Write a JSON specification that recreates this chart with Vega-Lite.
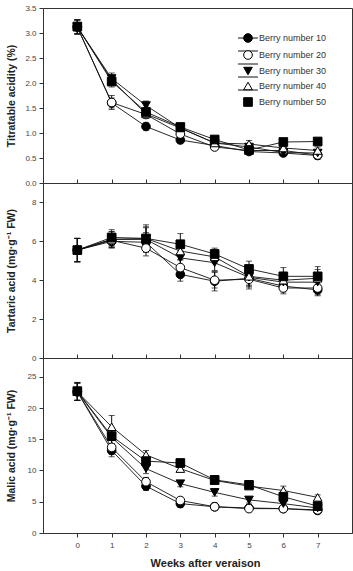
{
  "$schema": "https://vega.github.io/schema/vega-lite/v6.json",
  "padding": {"left": 5, "top": 3, "right": 2, "bottom": 2},
  "spacing": 0,
  "bounds": "flush",
  "datasets": {
    "acids": [
      {"week": 0, "series": "Berry number 10", "ta": 3.12, "ta_sd": 0.14, "tart": 5.55, "tart_sd": 0.6, "mal": 22.6, "mal_sd": 1.4},
      {"week": 1, "series": "Berry number 10", "ta": 1.60, "ta_sd": 0.10, "tart": 6.0, "tart_sd": 0.35, "mal": 13.2, "mal_sd": 1.0},
      {"week": 2, "series": "Berry number 10", "ta": 1.13, "ta_sd": 0.07, "tart": 5.95, "tart_sd": 0.5, "mal": 7.5, "mal_sd": 0.7},
      {"week": 3, "series": "Berry number 10", "ta": 0.86, "ta_sd": 0.07, "tart": 4.3, "tart_sd": 0.35, "mal": 4.7, "mal_sd": 0.6},
      {"week": 4, "series": "Berry number 10", "ta": 0.75, "ta_sd": 0.06, "tart": 3.95, "tart_sd": 0.5, "mal": 4.2, "mal_sd": 0.6},
      {"week": 5, "series": "Berry number 10", "ta": 0.63, "ta_sd": 0.06, "tart": 4.1, "tart_sd": 0.45, "mal": 4.0, "mal_sd": 0.5},
      {"week": 6, "series": "Berry number 10", "ta": 0.60, "ta_sd": 0.06, "tart": 3.7, "tart_sd": 0.3, "mal": 3.9, "mal_sd": 0.5},
      {"week": 7, "series": "Berry number 10", "ta": 0.55, "ta_sd": 0.07, "tart": 3.5, "tart_sd": 0.3, "mal": 3.6, "mal_sd": 0.4},

      {"week": 0, "series": "Berry number 20", "ta": 3.12, "ta_sd": 0.14, "tart": 5.55, "tart_sd": 0.6, "mal": 22.6, "mal_sd": 1.4},
      {"week": 1, "series": "Berry number 20", "ta": 1.61, "ta_sd": 0.14, "tart": 6.05, "tart_sd": 0.35, "mal": 13.7, "mal_sd": 1.1},
      {"week": 2, "series": "Berry number 20", "ta": 1.37, "ta_sd": 0.07, "tart": 5.65, "tart_sd": 0.4, "mal": 8.2, "mal_sd": 0.7},
      {"week": 3, "series": "Berry number 20", "ta": 0.98, "ta_sd": 0.07, "tart": 4.65, "tart_sd": 0.4, "mal": 5.2, "mal_sd": 0.5},
      {"week": 4, "series": "Berry number 20", "ta": 0.72, "ta_sd": 0.06, "tart": 4.0, "tart_sd": 0.4, "mal": 4.2, "mal_sd": 0.5},
      {"week": 5, "series": "Berry number 20", "ta": 0.65, "ta_sd": 0.06, "tart": 4.05, "tart_sd": 0.5, "mal": 3.9, "mal_sd": 0.5},
      {"week": 6, "series": "Berry number 20", "ta": 0.65, "ta_sd": 0.06, "tart": 3.6, "tart_sd": 0.3, "mal": 3.9, "mal_sd": 0.5},
      {"week": 7, "series": "Berry number 20", "ta": 0.56, "ta_sd": 0.08, "tart": 3.6, "tart_sd": 0.35, "mal": 3.7, "mal_sd": 0.4},

      {"week": 0, "series": "Berry number 30", "ta": 3.12, "ta_sd": 0.14, "tart": 5.55, "tart_sd": 0.6, "mal": 22.6, "mal_sd": 1.4},
      {"week": 1, "series": "Berry number 30", "ta": 2.09, "ta_sd": 0.11, "tart": 6.1, "tart_sd": 0.4, "mal": 15.3, "mal_sd": 1.0},
      {"week": 2, "series": "Berry number 30", "ta": 1.55, "ta_sd": 0.09, "tart": 6.1, "tart_sd": 0.6, "mal": 10.3, "mal_sd": 0.8},
      {"week": 3, "series": "Berry number 30", "ta": 1.10, "ta_sd": 0.07, "tart": 5.15, "tart_sd": 0.4, "mal": 7.9, "mal_sd": 0.5},
      {"week": 4, "series": "Berry number 30", "ta": 0.80, "ta_sd": 0.06, "tart": 4.9, "tart_sd": 0.4, "mal": 6.5, "mal_sd": 0.6},
      {"week": 5, "series": "Berry number 30", "ta": 0.72, "ta_sd": 0.06, "tart": 4.15, "tart_sd": 0.45, "mal": 5.3, "mal_sd": 0.5},
      {"week": 6, "series": "Berry number 30", "ta": 0.61, "ta_sd": 0.06, "tart": 3.9, "tart_sd": 0.4, "mal": 4.7, "mal_sd": 0.5},
      {"week": 7, "series": "Berry number 30", "ta": 0.60, "ta_sd": 0.07, "tart": 3.9, "tart_sd": 0.4, "mal": 4.0, "mal_sd": 0.4},

      {"week": 0, "series": "Berry number 40", "ta": 3.12, "ta_sd": 0.14, "tart": 5.55, "tart_sd": 0.6, "mal": 22.6, "mal_sd": 1.4},
      {"week": 1, "series": "Berry number 40", "ta": 2.06, "ta_sd": 0.10, "tart": 6.1, "tart_sd": 0.4, "mal": 17.0, "mal_sd": 1.8},
      {"week": 2, "series": "Berry number 40", "ta": 1.38, "ta_sd": 0.07, "tart": 6.15, "tart_sd": 0.7, "mal": 12.5, "mal_sd": 0.7},
      {"week": 3, "series": "Berry number 40", "ta": 1.10, "ta_sd": 0.07, "tart": 5.5, "tart_sd": 0.45, "mal": 10.3, "mal_sd": 0.5},
      {"week": 4, "series": "Berry number 40", "ta": 0.80, "ta_sd": 0.06, "tart": 5.2, "tart_sd": 0.35, "mal": 8.4, "mal_sd": 0.6},
      {"week": 5, "series": "Berry number 40", "ta": 0.78, "ta_sd": 0.07, "tart": 4.2, "tart_sd": 0.45, "mal": 7.5, "mal_sd": 0.5},
      {"week": 6, "series": "Berry number 40", "ta": 0.70, "ta_sd": 0.06, "tart": 4.0, "tart_sd": 0.4, "mal": 6.8, "mal_sd": 0.7},
      {"week": 7, "series": "Berry number 40", "ta": 0.65, "ta_sd": 0.07, "tart": 4.1, "tart_sd": 0.45, "mal": 5.7, "mal_sd": 0.4},

      {"week": 0, "series": "Berry number 50", "ta": 3.13, "ta_sd": 0.14, "tart": 5.55, "tart_sd": 0.6, "mal": 22.7, "mal_sd": 1.4},
      {"week": 1, "series": "Berry number 50", "ta": 2.03, "ta_sd": 0.11, "tart": 6.2, "tart_sd": 0.4, "mal": 15.5, "mal_sd": 1.2},
      {"week": 2, "series": "Berry number 50", "ta": 1.42, "ta_sd": 0.08, "tart": 6.15, "tart_sd": 0.6, "mal": 11.5, "mal_sd": 0.8},
      {"week": 3, "series": "Berry number 50", "ta": 1.12, "ta_sd": 0.07, "tart": 5.85, "tart_sd": 0.55, "mal": 11.2, "mal_sd": 0.5},
      {"week": 4, "series": "Berry number 50", "ta": 0.87, "ta_sd": 0.06, "tart": 5.35, "tart_sd": 0.3, "mal": 8.5, "mal_sd": 0.6},
      {"week": 5, "series": "Berry number 50", "ta": 0.66, "ta_sd": 0.06, "tart": 4.58, "tart_sd": 0.4, "mal": 7.7, "mal_sd": 0.5},
      {"week": 6, "series": "Berry number 50", "ta": 0.82, "ta_sd": 0.06, "tart": 4.2, "tart_sd": 0.45, "mal": 5.8, "mal_sd": 0.6},
      {"week": 7, "series": "Berry number 50", "ta": 0.83, "ta_sd": 0.06, "tart": 4.2, "tart_sd": 0.5, "mal": 4.3, "mal_sd": 0.4}
    ]
  },
  "data": {"name": "acids"},
  "vconcat": [
    {
      "width": 309,
      "height": 175,
      "encoding": {
        "x": {"field": "week", "type": "quantitative", "scale": {"domain": [-1, 8], "nice": false},
              "axis": {"values": [0, 1, 2, 3, 4, 5, 6, 7], "labels": false, "title": null, "tickSize": -4}},
        "y": {"field": "ta", "type": "quantitative", "scale": {"domain": [0, 3.5], "nice": false},
              "axis": {"title": "Titratable acidity (%)", "values": [0, 0.5, 1, 1.5, 2, 2.5, 3, 3.5], "format": ".1f"}}
      },
      "layer": [
        {"mark": {"type": "errorbar", "ticks": {"size": 6, "color": "#111"}, "rule": {"color": "#111", "strokeWidth": 1}},
         "encoding": {"yError": {"field": "ta_sd"}, "detail": {"field": "series"}}},
        {"mark": {"type": "line", "strokeWidth": 0.9},
         "encoding": {
           "color": {"field": "series", "type": "nominal",
                     "scale": {"domain": ["Berry number 10", "Berry number 20", "Berry number 30", "Berry number 40", "Berry number 50"],
                               "range": ["#111", "#111", "#111", "#111", "#111"]},
                     "legend": {"orient": "none", "legendX": 200, "legendY": 25, "title": null, "padding": 0, "zindex": 0,
                                "symbolType": "M-2.3,0H2.3", "symbolSize": 75, "symbolStrokeWidth": 1,
                                "labelFontSize": 9, "labelColor": "transparent", "labelOffset": 6, "rowPadding": 3}},
           "order": {"field": "week"}}},
        {"mark": {"type": "point", "filled": true, "size": 75, "opacity": 1, "stroke": "black", "strokeWidth": 1},
         "encoding": {
           "shape": {"field": "series", "type": "nominal",
                     "scale": {"range": ["circle", "circle", "triangle-down", "triangle-up", "square"]},
                     "legend": {"orient": "none", "legendX": 200, "legendY": 25, "title": null, "padding": 0, "zindex": 1,
                                "symbolSize": 75, "symbolStrokeWidth": 1, "labelFontSize": 9, "labelColor": "#333",
                                "labelOffset": 6, "rowPadding": 3,
                                "encode": {"symbols": {
                                  "fill": {"value": {"expr": "datum.value === 'Berry number 20' || datum.value === 'Berry number 40' ? 'white' : 'black'"}},
                                  "stroke": {"value": "black"},
                                  "strokeWidth": {"value": 1},
                                  "opacity": {"value": 1}
                                }}}},
           "fill": {"field": "series", "type": "nominal",
                    "scale": {"range": ["black", "white", "black", "white", "black"]}, "legend": null}
         }}
      ]
    },
    {
      "width": 309,
      "height": 175,
      "encoding": {
        "x": {"field": "week", "type": "quantitative", "scale": {"domain": [-1, 8], "nice": false},
              "axis": {"values": [0, 1, 2, 3, 4, 5, 6, 7], "labels": false, "title": null, "tickSize": -4}},
        "y": {"field": "tart", "type": "quantitative", "scale": {"domain": [0, 9], "nice": false},
              "axis": {"title": "Tartaric acid (mg·g⁻¹ FW)", "values": [0, 2, 4, 6, 8]}}
      },
      "layer": [
        {"mark": {"type": "errorbar", "ticks": {"size": 6, "color": "#111"}, "rule": {"color": "#111", "strokeWidth": 1}},
         "encoding": {"yError": {"field": "tart_sd"}, "detail": {"field": "series"}}},
        {"mark": {"type": "line", "color": "#111", "strokeWidth": 0.9},
         "encoding": {"detail": {"field": "series"}, "order": {"field": "week"}}},
        {"mark": {"type": "point", "filled": true, "size": 75, "opacity": 1, "stroke": "black", "strokeWidth": 1},
         "encoding": {
           "shape": {"field": "series", "type": "nominal",
                     "scale": {"range": ["circle", "circle", "triangle-down", "triangle-up", "square"]}, "legend": null},
           "fill": {"field": "series", "type": "nominal",
                    "scale": {"range": ["black", "white", "black", "white", "black"]}, "legend": null}
         }}
      ]
    },
    {
      "width": 309,
      "height": 175,
      "encoding": {
        "x": {"field": "week", "type": "quantitative", "scale": {"domain": [-1, 8], "nice": false},
              "axis": {"values": [0, 1, 2, 3, 4, 5, 6, 7], "title": "Weeks after veraison", "titleFontSize": 11, "titlePadding": 8, "labelPadding": 4, "titleX": 162}},
        "y": {"field": "mal", "type": "quantitative", "scale": {"domain": [0, 28], "nice": false},
              "axis": {"title": "Malic acid (mg·g⁻¹ FW)", "values": [0, 5, 10, 15, 20, 25]}}
      },
      "layer": [
        {"mark": {"type": "errorbar", "ticks": {"size": 6, "color": "#111"}, "rule": {"color": "#111", "strokeWidth": 1}},
         "encoding": {"yError": {"field": "mal_sd"}, "detail": {"field": "series"}}},
        {"mark": {"type": "line", "color": "#111", "strokeWidth": 0.9},
         "encoding": {"detail": {"field": "series"}, "order": {"field": "week"}}},
        {"mark": {"type": "point", "filled": true, "size": 75, "opacity": 1, "stroke": "black", "strokeWidth": 1},
         "encoding": {
           "shape": {"field": "series", "type": "nominal",
                     "scale": {"range": ["circle", "circle", "triangle-down", "triangle-up", "square"]}, "legend": null},
           "fill": {"field": "series", "type": "nominal",
                    "scale": {"range": ["black", "white", "black", "white", "black"]}, "legend": null}
         }}
      ]
    }
  ],
  "resolve": {
    "scale": {"y": "independent", "shape": "independent", "fill": "independent", "color": "independent"},
    "legend": {"shape": "independent", "fill": "independent", "color": "independent"}
  },
  "config": {
    "font": "Liberation Sans",
    "view": {"stroke": "#333", "strokeWidth": 1},
    "axis": {
      "grid": false,
      "domainColor": "#333",
      "tickColor": "#333",
      "labelColor": "#444",
      "labelFont": "Liberation Sans",
      "labelFontSize": 8,
      "titleFont": "Liberation Sans",
      "titleFontSize": 10.5,
      "titleFontWeight": "bold",
      "titleColor": "#222",
      "tickSize": 4,
      "labelPadding": 3
    },
    "axisY": {"minExtent": 24, "maxExtent": 24, "titlePadding": 3},
    "legend": {"labelFont": "Liberation Sans"}
  }
}
